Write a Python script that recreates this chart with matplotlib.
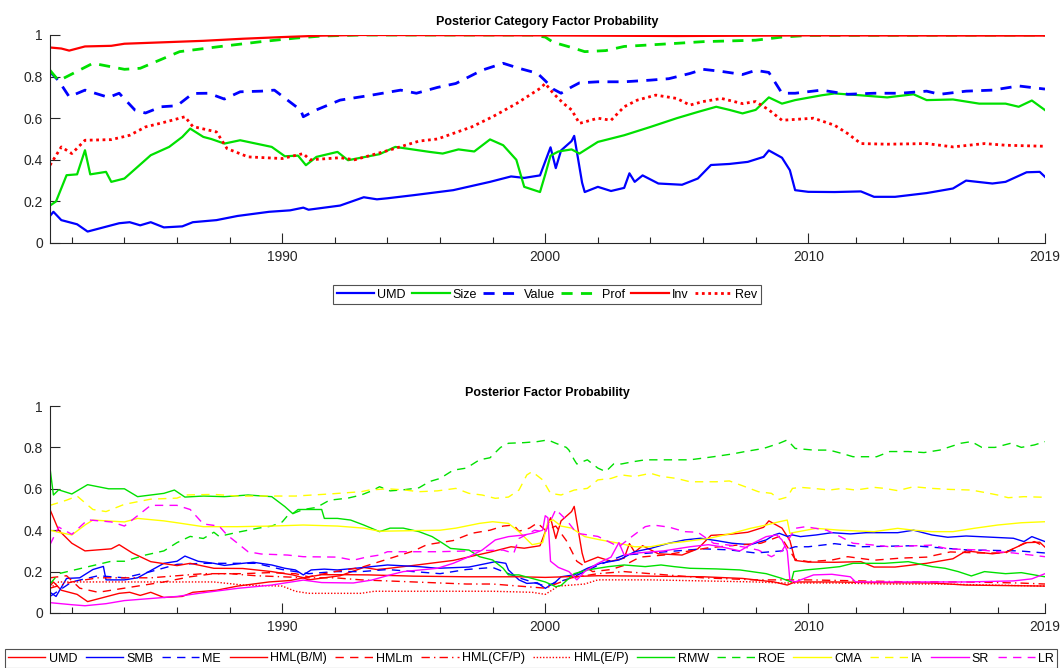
import matplotlib
matplotlib.use("Agg")
import matplotlib.pyplot as plt
from matplotlib.ticker import FixedLocator, FuncFormatter

plt.rcParams['font.family'] = ['Liberation Sans', 'DejaVu Sans']

# ---------------- Top panel: category probabilities ----------------
umd_t = [1981.17, 1981.3, 1981.6, 1982.2, 1982.6, 1983.2, 1983.8, 1984.2, 1984.6, 1985.0, 1985.5, 1986.2,
         1986.6, 1987.5, 1988.3, 1989.5, 1990.3, 1990.8, 1991.0, 1992.2, 1993.1, 1993.6, 1994.0, 1995.0,
         1996.5, 1997.9, 1998.7, 1999.2, 1999.8, 2000.2, 2000.4, 2000.6, 2001.0, 2001.1, 2001.4, 2001.5,
         2002.0, 2002.5, 2003.0, 2003.2, 2003.4, 2003.7, 2004.3, 2005.2, 2005.8, 2006.3, 2007.0, 2007.7,
         2008.3, 2008.5, 2009.0, 2009.3, 2009.5, 2010.0, 2011.0, 2012.0, 2012.5, 2013.3, 2014.5, 2015.5,
         2016.0, 2017.0, 2017.5, 2018.3, 2018.8, 2019.0]
umd_v = [0.13, 0.15, 0.11, 0.09, 0.055, 0.075, 0.095, 0.10, 0.085, 0.10, 0.075, 0.08,
         0.10, 0.11, 0.13, 0.15, 0.157, 0.17, 0.16, 0.18, 0.22, 0.21, 0.215, 0.23,
         0.254, 0.294, 0.32, 0.313, 0.325, 0.46, 0.36, 0.445, 0.49, 0.515, 0.29, 0.245,
         0.27, 0.25, 0.265, 0.335, 0.294, 0.325, 0.286, 0.28, 0.31, 0.375, 0.38, 0.39,
         0.414, 0.445, 0.41, 0.35, 0.254, 0.246, 0.245, 0.248, 0.222, 0.222, 0.24, 0.262,
         0.30, 0.286, 0.294, 0.34, 0.342, 0.318]

size_t = [1981.17, 1981.4, 1981.8, 1982.2, 1982.5, 1982.7, 1983.3, 1983.5, 1984.0, 1984.5, 1985.0, 1985.7,
          1986.2, 1986.5, 1987.0, 1987.3, 1987.8, 1988.4, 1989.6, 1990.1, 1990.6, 1990.9, 1991.3, 1992.1,
          1992.5, 1993.7, 1994.3, 1995.6, 1996.1, 1996.7, 1997.3, 1997.9, 1998.4, 1998.9, 1999.2, 1999.8,
          2000.0, 2000.2, 2000.5, 2001.0, 2001.3, 2002.0, 2003.0, 2004.0, 2005.0, 2005.8, 2006.5, 2007.0,
          2007.5, 2008.0, 2008.5, 2009.0, 2009.5, 2010.5, 2011.0, 2012.0, 2013.0, 2014.0, 2014.5, 2015.5,
          2016.5, 2017.5, 2018.0, 2018.5, 2019.0]
size_v = [0.18, 0.20, 0.326, 0.33, 0.446, 0.33, 0.342, 0.294, 0.31, 0.366, 0.422, 0.462,
          0.51, 0.55, 0.51, 0.50, 0.478, 0.494, 0.462, 0.417, 0.42, 0.374, 0.414, 0.438,
          0.398, 0.427, 0.462, 0.438, 0.43, 0.45, 0.44, 0.498, 0.47, 0.40, 0.27, 0.245,
          0.33, 0.42, 0.44, 0.45, 0.43, 0.486, 0.518, 0.558, 0.60, 0.63, 0.655, 0.64,
          0.623, 0.64, 0.70, 0.67, 0.687, 0.71, 0.719, 0.71, 0.70, 0.715, 0.687, 0.69,
          0.67, 0.67, 0.655, 0.685, 0.639]

value_t = [1981.17, 1981.5, 1981.9, 1982.5, 1983.4, 1983.8, 1984.4, 1984.8, 1985.4, 1986.0, 1986.6, 1987.2,
           1987.8, 1988.4, 1989.2, 1989.7, 1990.2, 1990.7, 1990.8, 1991.3, 1992.2, 1993.4, 1994.5, 1995.1,
           1995.9, 1996.6, 1997.6, 1998.4, 1999.0, 1999.7, 2000.0, 2000.3, 2000.6, 2001.0, 2001.3, 2002.0,
           2003.0, 2004.0, 2004.7, 2005.5, 2006.0, 2006.7, 2007.5, 2008.0, 2008.5, 2008.8, 2009.0, 2009.5,
           2010.5, 2011.5, 2012.5, 2013.5, 2014.5, 2015.0, 2016.0, 2017.0, 2018.0, 2019.0]
value_v = [0.823, 0.78, 0.703, 0.735, 0.70, 0.72, 0.639, 0.625, 0.655, 0.66, 0.719, 0.72,
           0.692, 0.727, 0.73, 0.735, 0.687, 0.639, 0.607, 0.64, 0.687, 0.711, 0.735, 0.72,
           0.748, 0.767, 0.831, 0.864, 0.84, 0.816, 0.78, 0.74, 0.72, 0.75, 0.77, 0.775,
           0.775, 0.783, 0.79, 0.815, 0.835, 0.825, 0.81, 0.83, 0.82, 0.76, 0.72, 0.72,
           0.735, 0.715, 0.72, 0.72, 0.73, 0.715, 0.73, 0.735, 0.755, 0.74]

prof_t = [1981.17, 1981.5, 1982.8, 1984.0, 1984.6, 1986.1, 1987.6, 1989.2, 1990.5, 1991.5, 1993.0, 1999.5,
          2000.0, 2000.3, 2001.0, 2001.5, 2002.3, 2003.0, 2005.0, 2006.0, 2008.0, 2009.0, 2010.0, 2019.0]
prof_v = [0.83, 0.78, 0.864, 0.835, 0.84, 0.92, 0.944, 0.968, 0.985, 0.995, 1.0, 1.0,
          0.99, 0.965, 0.94, 0.92, 0.925, 0.945, 0.96, 0.968, 0.975, 0.99, 0.998, 1.0]

inv_t = [1981.17, 1981.6, 1981.9, 1982.5, 1983.5, 1984.0, 1985.5, 1987.0, 1988.5, 1990.0, 1991.5, 1993.0,
         2000.0, 2005.0, 2010.0, 2019.0]
inv_v = [0.94, 0.935, 0.925, 0.945, 0.948, 0.958, 0.965, 0.972, 0.982, 0.99, 0.997, 1.0,
         0.998, 0.995, 0.998, 0.997]

rev_t = [1981.17, 1981.6, 1982.0, 1982.5, 1983.5, 1984.2, 1984.8, 1985.6, 1986.3, 1986.6, 1987.5, 1987.9,
         1988.7, 1990.0, 1990.8, 1991.05, 1992.2, 1992.75, 1994.06, 1995.2, 1995.9, 1997.2, 1998.0, 1998.9,
         1999.8, 2000.0, 2000.3, 2000.7, 2001.0, 2001.3, 2002.0, 2002.5, 2003.0, 2003.5, 2004.2, 2005.0,
         2005.5, 2006.0, 2006.7, 2007.5, 2008.0, 2008.5, 2009.0, 2010.2, 2011.0, 2011.5, 2012.0, 2013.0,
         2014.5, 2015.5, 2016.7, 2017.5, 2019.0]
rev_v = [0.374, 0.462, 0.43, 0.494, 0.497, 0.518, 0.558, 0.583, 0.607, 0.56, 0.534, 0.454,
         0.414, 0.406, 0.43, 0.40, 0.41, 0.40, 0.446, 0.49, 0.50, 0.558, 0.607, 0.67,
         0.743, 0.767, 0.72, 0.67, 0.64, 0.575, 0.60, 0.59, 0.655, 0.687, 0.711, 0.695,
         0.663, 0.68, 0.695, 0.67, 0.68, 0.64, 0.59, 0.60, 0.566, 0.526, 0.478, 0.475,
         0.478, 0.462, 0.478, 0.47, 0.465]

# ---------------- Bottom panel: individual factor probabilities ----------------
smb_t = [1981.17, 1981.4, 1981.8, 1982.3, 1982.8, 1983.2, 1983.3, 1984.0, 1984.5, 1985.0, 1985.5, 1986.0,
         1986.3, 1986.8, 1987.4, 1987.8, 1988.5, 1988.9, 1989.6, 1990.1, 1990.5, 1990.8, 1991.1, 1991.6,
         1992.1, 1992.7, 1993.4, 1994.0, 1995.2, 1995.9, 1997.1, 1997.8, 1998.1, 1998.5, 1998.6, 1999.0,
         1999.3, 1999.7, 2000.0, 2000.4, 2000.6, 2001.1, 2001.6, 2002.1, 2002.8, 2003.4, 2004.0, 2004.7,
         2005.3, 2005.9, 2006.5, 2007.1, 2007.8, 2008.4, 2008.7, 2008.9, 2009.2, 2009.4, 2009.7, 2010.3,
         2010.9, 2011.6, 2012.2, 2013.4, 2014.0, 2014.7, 2015.3, 2016.0, 2017.8, 2018.2, 2018.5, 2019.0]
smb_v = [0.10, 0.08, 0.167, 0.17, 0.21, 0.225, 0.16, 0.16, 0.17, 0.205, 0.24, 0.25,
         0.275, 0.25, 0.24, 0.23, 0.24, 0.245, 0.232, 0.216, 0.208, 0.184, 0.208, 0.212,
         0.208, 0.215, 0.224, 0.232, 0.224, 0.216, 0.222, 0.24, 0.248, 0.24, 0.208, 0.16,
         0.143, 0.146, 0.119, 0.151, 0.175, 0.184, 0.216, 0.24, 0.256, 0.296, 0.312, 0.337,
         0.353, 0.361, 0.35, 0.337, 0.33, 0.353, 0.377, 0.385, 0.37, 0.377, 0.369, 0.377,
         0.388, 0.382, 0.388, 0.388, 0.40, 0.377, 0.366, 0.372, 0.361, 0.345, 0.369, 0.345]

me_t = [1981.17, 1982.0, 1983.0, 1984.0, 1985.0, 1986.0, 1987.0, 1988.0, 1989.0, 1990.0, 1991.0, 1992.0,
        1993.0, 1994.0, 1995.0, 1996.0, 1997.0, 1998.0, 1999.0, 2000.0, 2001.0, 2002.0, 2003.0, 2004.0,
        2005.0, 2006.0, 2007.0, 2008.0, 2009.0, 2009.5, 2010.0, 2011.0, 2012.0, 2014.0, 2016.0, 2018.0,
        2019.0]
me_v = [0.08, 0.15, 0.18, 0.17, 0.20, 0.235, 0.24, 0.24, 0.24, 0.21, 0.19, 0.20,
        0.20, 0.21, 0.20, 0.19, 0.21, 0.22, 0.17, 0.13, 0.17, 0.23, 0.28, 0.29,
        0.30, 0.31, 0.305, 0.29, 0.30, 0.32, 0.32, 0.335, 0.32, 0.325, 0.305, 0.30,
        0.29]

hmlbm_t = [1981.17, 1981.5, 1982.0, 1982.5, 1983.5, 1983.8, 1984.3, 1985.0, 1986.0, 1986.5, 1987.4, 1988.5,
           1989.6, 1990.4, 1990.8, 1991.5, 1992.5, 1993.3, 1995.0, 1997.0, 1999.0, 2000.0, 2002.0, 2004.0,
           2006.0, 2007.5, 2008.7, 2009.2, 2009.5, 2011.0, 2012.5, 2014.7, 2016.0, 2019.0]
hmlbm_v = [0.50, 0.40, 0.337, 0.30, 0.31, 0.33, 0.29, 0.248, 0.229, 0.24, 0.216, 0.215,
           0.20, 0.184, 0.17, 0.185, 0.185, 0.184, 0.178, 0.175, 0.175, 0.172, 0.18, 0.178,
           0.175, 0.167, 0.15, 0.135, 0.15, 0.15, 0.147, 0.145, 0.135, 0.13]

hmlm_t = [1981.17, 1981.8, 1982.3, 1983.0, 1983.5, 1984.5, 1985.5, 1986.5, 1987.4, 1988.5, 1989.5, 1990.5,
          1991.0, 1992.0, 1993.0, 1994.0, 1995.0, 1995.5, 1996.5, 1997.2, 1997.9, 1998.4, 1998.8, 1999.0,
          1999.4, 1999.7, 2000.0, 2000.4, 2000.8, 2001.2, 2001.8, 2002.5, 2003.0, 2003.6, 2004.5, 2005.5,
          2006.2, 2007.3, 2008.2, 2008.9, 2009.1, 2009.5, 2010.0, 2010.9, 2011.5, 2012.5, 2013.5, 2014.5,
          2015.4, 2016.5, 2017.5, 2018.2, 2018.6, 2019.0]
hmlm_v = [0.17, 0.18, 0.12, 0.10, 0.11, 0.13, 0.15, 0.175, 0.19, 0.19, 0.195, 0.19,
          0.175, 0.20, 0.22, 0.26, 0.30, 0.33, 0.35, 0.385, 0.40, 0.42, 0.425, 0.395,
          0.41, 0.435, 0.40, 0.42, 0.35, 0.25, 0.20, 0.21, 0.23, 0.27, 0.28, 0.30,
          0.315, 0.328, 0.337, 0.37, 0.34, 0.26, 0.248, 0.256, 0.272, 0.255, 0.265, 0.27,
          0.295, 0.29, 0.29, 0.337, 0.345, 0.32]

hmlcfp_t = [1981.17, 1982.0, 1983.0, 1984.0, 1985.0, 1986.0, 1987.0, 1988.0, 1989.0, 1990.0, 1991.0, 1992.0,
            1993.0, 1994.0, 1995.0, 1996.0, 1997.0, 1998.0, 1999.0, 2000.0, 2001.0, 2002.0, 2003.0, 2004.0,
            2005.0, 2006.0, 2007.0, 2008.0, 2009.0, 2010.0, 2012.0, 2014.0, 2016.0, 2018.0, 2019.0]
hmlcfp_v = [0.12, 0.15, 0.17, 0.17, 0.17, 0.18, 0.19, 0.19, 0.18, 0.175, 0.17, 0.17,
            0.16, 0.155, 0.15, 0.145, 0.14, 0.14, 0.13, 0.12, 0.17, 0.19, 0.20, 0.19,
            0.18, 0.17, 0.165, 0.16, 0.16, 0.16, 0.155, 0.15, 0.15, 0.145, 0.14]

hmlep_t = [1981.17, 1981.5, 1987.4, 1988.5, 1990.0, 1990.5, 1991.0, 1993.0, 1993.5, 1996.0, 1998.0, 1999.5,
           2000.0, 2000.5, 2001.5, 2002.0, 2004.0, 2006.0, 2008.0, 2009.0, 2011.0, 2013.0, 2015.0, 2017.0,
           2019.0]
hmlep_v = [0.12, 0.15, 0.15, 0.135, 0.13, 0.105, 0.095, 0.095, 0.105, 0.105, 0.105, 0.10,
           0.09, 0.13, 0.14, 0.16, 0.16, 0.155, 0.15, 0.145, 0.145, 0.14, 0.14, 0.135,
           0.13]

rmw_t = [1981.17, 1981.3, 1981.5, 1982.0, 1982.6, 1983.4, 1984.0, 1984.5, 1985.5, 1985.9, 1986.3, 1987.0,
         1987.8, 1988.7, 1989.6, 1990.1, 1990.4, 1990.6, 1991.1, 1991.5, 1991.6, 1992.1, 1992.6, 1993.1,
         1993.7, 1994.1, 1994.6, 1995.2, 1995.7, 1996.1, 1996.4, 1997.1, 1997.5, 1998.0, 1998.4, 1998.6,
         1999.0, 1999.5, 2000.0, 2000.4, 2000.6, 2001.1, 2001.6, 2002.4, 2003.0, 2003.8, 2004.4, 2004.9,
         2005.5, 2006.5, 2007.4, 2008.4, 2009.0, 2009.35, 2009.45, 2009.9, 2010.6, 2011.2, 2011.7, 2012.9,
         2013.8, 2014.7, 2015.2, 2015.7, 2016.2, 2016.7, 2017.5, 2018.1, 2019.0]
rmw_v = [0.70, 0.57, 0.595, 0.575, 0.62, 0.60, 0.60, 0.562, 0.578, 0.594, 0.56, 0.565,
         0.562, 0.57, 0.562, 0.514, 0.48, 0.50, 0.50, 0.50, 0.457, 0.457, 0.449, 0.425,
         0.393, 0.41, 0.41, 0.393, 0.369, 0.337, 0.312, 0.304, 0.272, 0.256, 0.216, 0.184,
         0.184, 0.167, 0.15, 0.127, 0.133, 0.19, 0.208, 0.224, 0.232, 0.224, 0.232, 0.224,
         0.216, 0.213, 0.208, 0.19, 0.167, 0.15, 0.20, 0.208, 0.216, 0.224, 0.24, 0.24,
         0.248, 0.224, 0.216, 0.20, 0.179, 0.2, 0.19, 0.195, 0.175]

roe_t = [1981.17, 1981.5, 1982.5, 1983.5, 1984.0, 1984.8, 1985.5, 1986.0, 1986.5, 1987.0, 1987.4, 1987.6,
         1988.3, 1989.1, 1989.6, 1990.0, 1990.2, 1990.8, 1991.3, 1991.8, 1992.5, 1993.0, 1993.4, 1993.7,
         1994.1, 1994.6, 1995.2, 1995.6, 1996.0, 1996.5, 1997.0, 1997.5, 1997.9, 1998.3, 1998.6, 1999.2,
         1999.7, 2000.1, 2000.4, 2000.8, 2000.9, 2001.1, 2001.2, 2001.6, 2002.0, 2002.3, 2002.6, 2002.9,
         2003.3, 2003.8, 2004.9, 2005.5, 2006.4, 2007.1, 2007.6, 2008.3, 2008.9, 2009.2, 2009.5, 2010.2,
         2010.8, 2011.3, 2011.7, 2012.6, 2013.1, 2013.8, 2014.4, 2015.0, 2015.8, 2016.2, 2016.6, 2017.1,
         2017.7, 2018.1, 2018.6, 2019.0]
roe_v = [0.14, 0.19, 0.22, 0.25, 0.25, 0.28, 0.30, 0.34, 0.37, 0.36, 0.39, 0.37,
         0.39, 0.41, 0.42, 0.44, 0.47, 0.50, 0.51, 0.545, 0.555, 0.57, 0.59, 0.61,
         0.59, 0.595, 0.605, 0.635, 0.65, 0.69, 0.70, 0.74, 0.75, 0.80, 0.82, 0.823,
         0.828, 0.836, 0.82, 0.80, 0.787, 0.74, 0.72, 0.74, 0.70, 0.683, 0.72, 0.72,
         0.73, 0.74, 0.74, 0.74, 0.755, 0.768, 0.78, 0.795, 0.82, 0.836, 0.795, 0.787,
         0.787, 0.77, 0.755, 0.755, 0.78, 0.78, 0.775, 0.787, 0.82, 0.828, 0.80, 0.80,
         0.82, 0.80, 0.812, 0.828]

cma_t = [1981.17, 1981.5, 1982.0, 1982.5, 1982.8, 1984.0, 1984.5, 1985.5, 1986.0, 1987.0, 1988.3, 1989.6,
         1990.8, 1992.1, 1993.1, 1993.7, 1994.6, 1996.0, 1996.6, 1997.5, 1998.0, 1998.6, 1999.0, 1999.5,
         1999.9, 2000.1, 2000.3, 2000.6, 2001.0, 2001.5, 2002.1, 2002.8, 2003.4, 2004.0, 2004.7, 2005.3,
         2006.2, 2007.1, 2007.8, 2008.4, 2008.9, 2009.2, 2009.3, 2009.5, 2010.3, 2011.2, 2012.5, 2013.4,
         2014.0, 2014.7, 2015.5, 2016.3, 2017.2, 2018.1, 2019.0]
cma_v = [0.40, 0.39, 0.377, 0.425, 0.449, 0.44, 0.457, 0.445, 0.436, 0.417, 0.417, 0.42,
         0.425, 0.42, 0.41, 0.395, 0.397, 0.40, 0.41, 0.433, 0.441, 0.433, 0.393, 0.33,
         0.34, 0.44, 0.45, 0.42, 0.41, 0.369, 0.353, 0.337, 0.32, 0.32, 0.337, 0.345,
         0.36, 0.385, 0.409, 0.425, 0.441, 0.449, 0.385, 0.39, 0.409, 0.40, 0.393, 0.409,
         0.40, 0.393, 0.393, 0.409, 0.425, 0.436, 0.441]

ia_t = [1981.17, 1981.8, 1982.2, 1982.8, 1983.3, 1984.0, 1985.0, 1986.0, 1986.3, 1987.4, 1988.3, 1989.6,
        1990.5, 1991.8, 1993.0, 1993.3, 1994.0, 1994.6, 1995.2, 1995.9, 1996.6, 1997.1, 1997.6, 1998.1,
        1998.6, 1999.0, 1999.3, 1999.5, 1999.9, 2000.2, 2000.6, 2001.1, 2001.6, 2002.0, 2002.5, 2002.9,
        2003.4, 2004.0, 2004.4, 2005.0, 2005.5, 2006.5, 2007.0, 2007.6, 2008.1, 2008.6, 2008.9, 2009.2,
        2009.4, 2009.7, 2010.2, 2010.8, 2011.3, 2011.8, 2012.5, 2012.9, 2013.4, 2014.0, 2014.7, 2015.4,
        2016.2, 2016.8, 2017.2, 2017.6, 2018.2, 2019.0]
ia_v = [0.52, 0.545, 0.565, 0.50, 0.49, 0.525, 0.55, 0.555, 0.57, 0.573, 0.565, 0.565,
        0.565, 0.575, 0.586, 0.594, 0.60, 0.595, 0.586, 0.59, 0.602, 0.578, 0.57, 0.554,
        0.56, 0.594, 0.667, 0.683, 0.643, 0.578, 0.57, 0.594, 0.602, 0.643, 0.65, 0.667,
        0.659, 0.675, 0.66, 0.65, 0.634, 0.634, 0.638, 0.61, 0.586, 0.578, 0.549, 0.56,
        0.602, 0.607, 0.602, 0.594, 0.602, 0.594, 0.607, 0.602, 0.591, 0.61, 0.602, 0.597,
        0.594, 0.58, 0.57, 0.557, 0.562, 0.559]

sr_t = [1981.17, 1982.0, 1982.5, 1983.3, 1984.0, 1985.0, 1986.0, 1987.0, 1988.3, 1989.6, 1990.4, 1990.8,
        1991.5, 1992.7, 1993.4, 1994.1, 1994.6, 1995.9, 1996.5, 1997.1, 1997.6, 1998.1, 1998.6, 1999.2,
        1999.5, 1999.9, 2000.0, 2000.1, 2000.2, 2000.5, 2000.9, 2001.2, 2001.5, 2002.0, 2002.5, 2002.8,
        2003.0, 2003.5, 2004.5, 2005.5, 2006.2, 2006.6, 2007.4, 2007.9, 2008.4, 2008.8, 2009.0, 2009.2,
        2009.3, 2009.5, 2010.2, 2010.9, 2011.6, 2011.8, 2013.5, 2016.0, 2017.8, 2018.5, 2019.0]
sr_v = [0.05, 0.04, 0.035, 0.045, 0.06, 0.07, 0.08, 0.098, 0.119, 0.135, 0.151, 0.159,
        0.147, 0.145, 0.159, 0.184, 0.20, 0.216, 0.24, 0.272, 0.304, 0.353, 0.369, 0.377,
        0.385, 0.40, 0.47, 0.46, 0.25, 0.22, 0.20, 0.16, 0.20, 0.24, 0.27, 0.34,
        0.28, 0.29, 0.30, 0.32, 0.33, 0.322, 0.30, 0.337, 0.369, 0.377, 0.353, 0.30,
        0.159, 0.15, 0.184, 0.187, 0.175, 0.15, 0.15, 0.15, 0.155, 0.165, 0.19]

lr_t = [1981.17, 1981.5, 1982.0, 1982.6, 1983.5, 1984.0, 1984.5, 1985.0, 1986.0, 1986.5, 1987.0, 1987.6,
        1987.9, 1988.3, 1988.7, 1989.2, 1990.2, 1990.8, 1992.1, 1992.7, 1993.2, 1993.7, 1994.0, 1995.9,
        1998.4, 1998.8, 1999.0, 1999.6, 2000.0, 2000.4, 2000.8, 2001.2, 2002.0, 2002.8, 2003.3, 2003.8,
        2004.1, 2004.7, 2005.3, 2005.8, 2006.4, 2007.5, 2008.1, 2008.6, 2009.0, 2009.5, 2009.9, 2010.7,
        2011.2, 2011.7, 2012.5, 2013.1, 2014.7, 2015.3, 2016.6, 2017.2, 2017.8, 2019.0]
lr_v = [0.33, 0.415, 0.38, 0.45, 0.44, 0.42, 0.47, 0.52, 0.52, 0.50, 0.43, 0.42,
        0.377, 0.337, 0.296, 0.285, 0.28, 0.272, 0.27, 0.255, 0.27, 0.28, 0.296, 0.296,
        0.304, 0.288, 0.36, 0.40, 0.39, 0.50, 0.45, 0.385, 0.37, 0.32, 0.37, 0.417,
        0.425, 0.415, 0.393, 0.39, 0.337, 0.32, 0.304, 0.272, 0.30, 0.409, 0.417, 0.40,
        0.37, 0.337, 0.328, 0.32, 0.328, 0.31, 0.304, 0.296, 0.29, 0.272]

top_labels = ['UMD', 'Size', 'Value', 'Prof', 'Inv', 'Rev']
bottom_labels = ['UMD', 'SMB', 'ME', 'HML(B/M)', 'HMLm', 'HML(CF/P)', 'HML(E/P)',
                 'RMW', 'ROE', 'CMA', 'IA', 'SR', 'LR']
major_years = [1990, 2000, 2010, 2019]
minor_years = [1982, 1984, 1986, 1988, 1992, 1994, 1996, 1998, 2002, 2004, 2006, 2008,
               2011.8, 2013.6, 2015.4, 2017.2]
y_ticks = [0, 0.2, 0.4, 0.6, 0.8, 1]

BLUE, GREEN, RED, YEL, MAG = '#0000ff', '#00e000', '#ff0000', '#ffff00', '#ff00ff'
DASH = (0, (4, 3))
DOT = (0, (1, 1.3))
DASHB = (0, (6, 4.5))
DASHDOT = (0, (6, 3, 1, 3))

fig = plt.figure(figsize=(10.63, 6.68), dpi=100)
ax1 = fig.add_axes([50/1063, 1-243/668, 995/1063, 208/668])
ax2 = fig.add_axes([50/1063, 1-613/668, 995/1063, 207/668])

lw_top = 1.6
ax1.plot(umd_t, umd_v, color=BLUE, lw=lw_top, ls='-', label=top_labels[0])
ax1.plot(size_t, size_v, color=GREEN, lw=lw_top, ls='-', label=top_labels[1])
ax1.plot(value_t, value_v, color=BLUE, lw=lw_top+0.4, ls=DASH, label=top_labels[2])
ax1.plot(prof_t, prof_v, color=GREEN, lw=lw_top+0.4, ls=DASH, label=top_labels[3])
ax1.plot(inv_t, inv_v, color=RED, lw=lw_top, ls='-', label=top_labels[4])
ax1.plot(rev_t, rev_v, color=RED, lw=lw_top+0.4, ls=DOT, label=top_labels[5])

lw_b = 1.0
series_b = [(umd_t, umd_v, RED, '-'), (smb_t, smb_v, BLUE, '-'), (me_t, me_v, BLUE, DASHB),
            (hmlbm_t, hmlbm_v, RED, '-'), (hmlm_t, hmlm_v, RED, DASHB),
            (hmlcfp_t, hmlcfp_v, RED, DASHDOT), (hmlep_t, hmlep_v, RED, DOT),
            (rmw_t, rmw_v, GREEN, '-'), (roe_t, roe_v, GREEN, DASHB),
            (cma_t, cma_v, YEL, '-'), (ia_t, ia_v, YEL, DASHB),
            (sr_t, sr_v, MAG, '-'), (lr_t, lr_v, MAG, DASHB)]
for (t, v, c, ls), lab in zip(series_b, bottom_labels):
    ax2.plot(t, v, color=c, lw=lw_b, ls=ls, label=lab)

yfmt = FuncFormatter(lambda v, p: '%g' % v)
for ax, title in [(ax1, 'Posterior Category Factor Probability'), (ax2, 'Posterior Factor Probability')]:
    ax.set_xlim(1981.17, 2019)
    ax.set_ylim(0, 1)
    ax.xaxis.set_major_locator(FixedLocator(major_years))
    ax.xaxis.set_minor_locator(FixedLocator(minor_years))
    ax.yaxis.set_major_locator(FixedLocator(y_ticks))
    ax.yaxis.set_major_formatter(yfmt)
    ax.spines['top'].set_visible(False)
    ax.spines['right'].set_visible(False)
    for s in ('left', 'bottom'):
        ax.spines[s].set_color('#262626')
        ax.spines[s].set_linewidth(0.8)
    ax.tick_params(axis='both', which='major', direction='in', length=7, width=0.8,
                   colors='#262626', labelsize=10, pad=5)
    ax.tick_params(axis='x', which='minor', direction='in', length=4, width=0.8, colors='#262626')
    ax.set_title(title, fontsize=9, fontweight='bold', pad=7)

leg1 = ax1.legend(loc='center', bbox_to_anchor=(547/1063, 1-294.5/668), bbox_transform=fig.transFigure,
                  ncol=6, fontsize=9, frameon=True, fancybox=False, edgecolor='#262626',
                  handlelength=3.0, handletextpad=0.25, columnspacing=0.5, borderpad=0.3,
                  borderaxespad=0)
leg1.get_frame().set_linewidth(0.8)

leg2 = ax2.legend(loc='center', bbox_to_anchor=(531/1063, 1-658.5/668), bbox_transform=fig.transFigure,
                  ncol=13, fontsize=9, frameon=True, fancybox=False, edgecolor='#262626',
                  handlelength=3.0, handletextpad=0.25, columnspacing=0.68, borderpad=0.25,
                  borderaxespad=0)
leg2.get_frame().set_linewidth(0.8)

fig.savefig('out.png', dpi=100)
